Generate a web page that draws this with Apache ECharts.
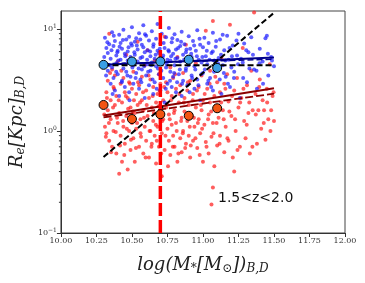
<!DOCTYPE html>
<html><head><meta charset="utf-8">
<script src="https://cdn.jsdelivr.net/npm/echarts@6/dist/echarts.min.js"></script>
<style>html,body{margin:0;padding:0;background:#fff}#c{width:365px;height:283px}</style>
</head><body><div id="c"></div>
<script>
const xTickValues = [10.00, 10.25, 10.50, 10.75, 11.00, 11.25, 11.50, 11.75, 12.00];
const yMinorTicks = [0.2,0.3,0.4,0.5,0.6,0.7,0.8,0.9,2,3,4,5,6,7,8,9];

const bluePoints = [
[10.31,8.2],[10.32,6.5],[10.33,5.8],[10.33,3.9],[10.34,7.1],[10.35,2.9],[10.35,5.1],[10.36,9.3],[10.36,4.2],[10.37,6.8],
[10.37,3.3],[10.38,2.5],[10.38,7.6],[10.39,5.5],[10.39,4.6],[10.40,6.1],[10.40,3.6],[10.41,8.8],[10.41,2.2],[10.42,5.0],
[10.42,7.3],[10.43,3.1],[10.43,6.4],[10.44,4.1],[10.44,9.8],[10.45,5.7],[10.45,2.7],[10.46,7.9],[10.46,3.8],[10.47,6.0],
[10.47,4.9],[10.48,2.4],[10.48,8.4],[10.49,5.3],[10.49,3.4],[10.50,6.9],[10.50,10.4],[10.51,4.4],[10.51,2.9],[10.52,7.5],
[10.52,5.6],[10.53,3.7],[10.53,8.1],[10.54,4.8],[10.54,6.3],[10.55,2.6],[10.55,9.1],[10.56,5.2],[10.56,3.2],[10.57,7.0],
[10.57,4.0],[10.58,6.6],[10.58,10.9],[10.59,2.1],[10.59,5.9],[10.60,3.5],[10.60,8.6],[10.61,4.5],[10.61,6.2],[10.62,2.8],
[10.62,7.7],[10.63,5.4],[10.63,3.9],[10.64,9.5],[10.64,4.7],[10.65,6.7],[10.65,2.3],[10.66,5.1],[10.66,3.0],[10.67,8.0],
[10.67,4.3],[10.68,6.1],[10.68,11.2],[10.69,3.6],[10.69,5.8],[10.70,7.2],[10.70,2.5],[10.71,4.6],[10.71,9.0],[10.72,5.5],
[10.72,3.3],[10.73,6.5],[10.73,1.9],[10.74,4.2],[10.74,8.3],[10.75,5.0],[10.75,2.9],[10.76,10.2],[10.76,6.0],[10.77,3.8],
[10.77,4.9],[10.78,7.4],[10.78,2.7],[10.79,5.7],[10.79,3.4],[10.80,8.9],[10.80,4.4],[10.81,6.3],[10.81,2.4],[10.82,5.2],
[10.82,7.8],[10.83,3.6],[10.84,4.8],[10.84,6.8],[10.85,2.2],[10.85,9.4],[10.86,5.6],[10.86,3.1],[10.87,7.1],[10.88,4.1],
[10.88,5.9],[10.89,2.8],[10.90,8.5],[10.90,4.6],[10.91,6.4],[10.92,3.5],[10.92,5.3],[10.93,7.6],[10.94,2.6],[10.94,4.3],
[10.95,6.1],[10.96,9.7],[10.96,3.2],[10.97,5.0],[10.98,7.0],[10.98,2.0],[10.99,4.7],[11.00,6.6],[11.00,3.7],[11.01,8.2],
[11.02,5.4],[11.03,2.9],[11.03,4.5],[11.04,7.3],[11.05,3.3],[11.06,5.8],[11.07,9.2],[11.07,2.5],[11.08,4.9],[11.09,6.7],
[11.10,3.9],[11.11,5.2],[11.12,7.9],[11.13,2.3],[11.14,4.4],[11.15,6.2],[11.16,3.4],[11.17,8.6],[11.18,5.0],[11.19,2.7],
[11.20,4.2],[11.21,6.9],[11.22,3.8],[11.24,5.5],[11.25,9.0],[11.26,2.1],[11.28,4.7],[11.29,7.2],[11.31,3.0],[11.32,5.9],
[11.34,8.3],[11.36,4.0],[11.38,2.6],[11.40,6.4],[11.42,4.8],[11.44,8.1],[11.46,3.5],[11.48,5.3],[11.50,4.3],[11.45,8.6],
[10.305,5.3],[10.318,3.5],[10.327,7.4],[10.342,4.4],[10.356,6.2],[10.364,2.3],[10.372,8.6],[10.389,3.8],[10.397,5.9],[10.404,4.9],
[10.413,6.7],[10.428,3.0],[10.436,7.8],[10.447,4.5],[10.453,5.4],[10.468,3.5],[10.476,6.6],[10.483,2.0],[10.494,7.2],[10.503,4.2],
[10.517,5.9],[10.526,3.3],[10.534,6.9],[10.547,4.1],[10.559,7.9],[10.566,3.0],[10.573,5.3],[10.586,4.3],[10.592,8.9],[10.607,5.0],
[10.614,3.8],[10.628,6.0],[10.636,4.4],[10.645,3.2],[10.652,7.1],[10.667,5.6],[10.674,2.6],[10.683,4.1],[10.696,6.4],[10.707,3.9],
[10.716,5.2],[10.723,7.3],[10.738,2.6],[10.745,4.5],[10.757,6.2],[10.768,3.1],[10.776,5.4],[10.784,8.1],[10.797,3.7],[10.806,5.1],
[10.818,3.0],[10.825,6.5],[10.837,4.0],[10.846,7.5],[10.853,2.9],[10.867,5.0],[10.879,3.9],[10.884,6.3],[10.897,4.4],[10.906,2.4],
[10.917,5.7],[10.924,3.3],[10.938,6.9],[10.946,4.0],[10.957,5.4],[10.968,2.8],[10.976,8.0],[10.988,3.6],[10.996,5.3],[11.013,4.0],
[11.027,6.1],[11.038,3.1],[11.046,5.0],[11.058,2.7],[11.069,6.0],[11.078,3.8],[11.093,7.6],[11.106,4.6],[11.118,3.2],[11.127,5.6],
[11.139,8.8],[11.147,3.7],[11.158,4.9],[11.176,2.9],[11.187,6.5],[11.204,5.4],[11.218,3.3],[11.236,7.7],[11.247,4.5],[11.268,5.1],
[11.283,3.3],[11.305,6.2],[11.327,4.1],[11.352,5.6],[11.377,3.9],[11.398,4.6],[11.423,2.9],[11.457,5.7],[11.486,4.9]
];

const redPoints = [
[10.31,1.1],[10.32,2.4],[10.32,0.95],[10.33,3.1],[10.33,1.6],[10.34,0.8],[10.34,9.0],[10.35,2.0],[10.35,1.3],[10.36,4.0],
[10.36,0.7],[10.37,2.7],[10.37,1.0],[10.38,1.8],[10.38,3.5],[10.39,0.6],[10.39,2.2],[10.40,1.2],[10.40,4.8],[10.41,0.38],
[10.41,1.5],[10.42,2.9],[10.42,0.9],[10.43,1.9],[10.43,0.5],[10.44,3.3],[10.44,1.1],[10.45,2.4],[10.45,0.75],[10.46,1.4],
[10.46,5.6],[10.47,0.42],[10.47,2.1],[10.48,1.0],[10.48,3.0],[10.49,1.7],[10.49,0.65],[10.50,2.6],[10.50,1.2],[10.51,0.85],
[10.51,3.8],[10.52,1.5],[10.52,0.5],[10.53,2.3],[10.53,1.05],[10.54,7.5],[10.54,1.8],[10.55,0.7],[10.55,2.8],[10.56,1.3],
[10.56,0.95],[10.57,3.4],[10.57,2.0],[10.58,0.6],[10.58,1.6],[10.59,4.4],[10.59,1.1],[10.60,2.5],[10.60,0.8],[10.61,1.4],
[10.61,6.2],[10.62,0.55],[10.62,2.1],[10.63,1.0],[10.63,3.2],[10.64,1.7],[10.64,0.75],[10.65,2.7],[10.65,1.25],[10.66,0.9],
[10.66,4.9],[10.67,1.9],[10.67,0.48],[10.68,2.3],[10.68,1.1],[10.69,3.6],[10.69,0.7],[10.70,1.5],[10.70,2.9],[10.71,0.95],
[10.71,0.36],[10.72,2.0],[10.72,1.3],[10.73,8.4],[10.73,0.65],[10.74,1.7],[10.74,3.0],[10.75,1.05],[10.75,2.4],[10.76,0.8],
[10.76,1.45],[10.77,4.2],[10.77,0.58],[10.78,2.2],[10.78,1.15],[10.79,0.9],[10.79,3.3],[10.80,1.6],[10.80,0.7],[10.81,2.6],
[10.81,1.2],[10.82,5.3],[10.82,0.5],[10.83,1.9],[10.84,0.85],[10.84,2.8],[10.85,1.35],[10.85,0.62],[10.86,3.7],[10.86,1.0],
[10.87,2.1],[10.87,1.55],[10.88,0.75],[10.88,7.0],[10.89,1.25],[10.89,2.5],[10.90,0.9],[10.90,1.8],[10.91,3.1],[10.91,0.55],
[10.92,1.4],[10.93,2.3],[10.93,0.8],[10.94,1.1],[10.95,4.6],[10.95,1.7],[10.96,0.68],[10.97,2.7],[10.97,1.3],[10.98,0.95],
[10.99,3.5],[10.99,1.6],[11.00,0.5],[11.00,2.0],[11.01,1.15],[11.02,9.6],[11.02,0.78],[11.03,2.6],[11.04,1.45],[11.04,0.6],
[11.05,3.9],[11.05,1.9],[11.06,0.88],[11.07,12.0],[11.07,1.2],[11.08,2.2],[11.08,0.45],[11.09,1.7],[11.10,3.0],[11.10,0.72],
[11.11,1.35],[11.12,2.4],[11.12,0.9],[11.13,5.2],[11.14,1.6],[11.15,0.62],[11.15,2.9],[11.16,1.1],[11.17,3.6],[11.18,0.8],
[11.18,1.95],[11.19,11.0],[11.20,1.4],[11.21,0.55],[11.22,2.5],[11.22,0.4],[11.23,1.0],[11.24,3.3],[11.25,1.7],[11.26,0.7],
[11.27,2.1],[11.28,6.5],[11.29,1.25],[11.30,0.85],[11.31,2.8],[11.32,1.5],[11.33,0.6],[11.34,3.9],[11.35,1.6],[11.36,14.5],
[11.37,2.3],[11.38,0.75],[11.39,1.6],[11.40,3.2],[11.41,1.05],[11.42,2.0],[11.43,1.6],[11.44,0.82],[11.45,2.6],[11.46,1.3],
[11.47,4.5],[11.48,1.6],[11.49,2.2],[11.50,1.25],[11.06,0.19],[11.07,0.28],
[10.305,1.45],[10.316,0.88],[10.324,2.1],[10.338,1.2],[10.346,3.7],[10.353,0.62],[10.367,1.7],[10.374,2.6],[10.386,0.98],[10.395,1.35],
[10.407,2.0],[10.416,0.72],[10.425,3.9],[10.438,1.25],[10.446,0.58],[10.457,2.2],[10.464,1.05],[10.473,1.65],[10.486,2.9],[10.493,0.82],
[10.506,1.55],[10.514,2.0],[10.528,0.68],[10.536,1.2],[10.543,3.0],[10.557,1.9],[10.564,0.88],[10.578,2.4],[10.585,1.35],[10.596,0.55],
[10.604,1.8],[10.617,3.5],[10.624,1.0],[10.637,0.7],[10.646,2.2],[10.654,1.5],[10.668,1.15],[10.675,0.8],[10.687,1.75],[10.694,2.5],
[10.706,0.6],[10.714,1.25],[10.727,2.7],[10.736,0.9],[10.747,1.85],[10.754,0.45],[10.766,1.3],[10.775,2.0],[10.788,0.7],[10.796,1.5],
[10.804,3.6],[10.815,1.0],[10.827,0.6],[10.834,2.3],[10.846,1.25],[10.858,0.95],[10.866,1.9],[10.875,0.68],[10.886,1.45],[10.894,3.0],
[10.907,1.1],[10.914,0.72],[10.928,2.0],[10.936,1.35],[10.947,0.85],[10.958,2.5],[10.964,1.2],[10.977,0.58],[10.985,1.8],[10.994,1.05],
[11.012,2.3],[11.025,0.7],[11.036,1.3],[11.047,2.9],[11.058,1.55],[11.074,0.95],[11.087,3.4],[11.096,1.2],[11.117,0.75],[11.128,1.9],
[11.146,1.3],[11.158,2.6],[11.172,0.85],[11.186,1.55],[11.205,2.2],[11.226,1.3],[11.243,0.65],[11.262,1.9],[11.285,2.6],[11.308,1.15],
[11.326,1.9],[11.348,0.7],[11.372,1.45],[11.396,2.7],[11.428,1.2],[11.452,1.9],[11.475,1.0],[11.497,2.4]
];

const blueMedX = [10.3, 10.5, 10.7, 10.9, 11.1];
const blueMedY = [4.45, 4.8, 4.8, 5.0, 4.15];
const redMedX = [10.3, 10.5, 10.7, 10.9, 11.1];
const redMedY = [1.8, 1.31, 1.46, 1.41, 1.67];

const blueFit = [[10.3, 4.45], [11.5, 5.25]];
const blueFitDash = [[10.3, 4.55], [11.5, 5.05]];
const flatRef = [[10.3, 4.4], [11.5, 4.4]];
const redFit = [[10.3, 1.42], [11.5, 2.62]];
const redFitDash = [[10.3, 1.36], [11.5, 2.32]];
const diagRef = [[10.3, 0.556], [11.5, 14.4]];
const massCut = [[10.7, 0.1], [10.7, 15]];

const serif = '"DejaVu Serif", "Liberation Serif", serif';

function lineSeries(data, color, width, type) {
  return {type: 'line', data: data, showSymbol: false, silent: true, z: 3,
    lineStyle: {color: color, width: width, type: type}, animation: false};
}

const chart = echarts.init(document.getElementById('c'), null, {renderer: 'canvas'});
chart.setOption({
  animation: false,
  grid: {left: 60, right: 20, top: 11, bottom: 50, show: true, borderColor: '#444', borderWidth: 1, backgroundColor: 'transparent'},
  xAxis: {
    type: 'value', min: 10, max: 12, interval: 0.25,
    axisLine: {show: true, onZero: false, lineStyle: {color: '#333'}},
    axisTick: {show: true, inside: false, length: 4, lineStyle: {color: '#333'}},
    splitLine: {show: false},
    axisLabel: {fontFamily: serif, fontSize: 8, color: '#333', margin: 4, formatter: v => v.toFixed(2)},
    name: 'log(M{s|*}[M{s|⊙}]){s|B,D}', nameLocation: 'middle', nameGap: 22,
    nameTextStyle: {fontFamily: serif, fontStyle: 'italic', fontSize: 18, color: '#222',
      rich: {s: {fontFamily: serif, fontStyle: 'italic', fontSize: 12, color: '#222', verticalAlign: 'bottom', padding: [8, 0, 0, 0]}}}
  },
  yAxis: {
    type: 'log', logBase: 10, min: 0.1, max: 15,
    axisLine: {show: true, onZero: false, lineStyle: {color: '#333'}},
    axisTick: {show: true, inside: false, length: 4, lineStyle: {color: '#333'}},
    splitLine: {show: false},
    axisLabel: {fontFamily: serif, fontSize: 8, color: '#333', margin: 4, showMaxLabel: false,
      formatter: v => { const e = Math.round(Math.log10(v)); return '{b|10}{s|' + (e < 0 ? '−' + (-e) : e) + '}'; },
      rich: {b: {fontFamily: serif, fontSize: 8, color: '#333'}, s: {fontFamily: serif, fontSize: 6, color: '#333', padding: [0, 0, 6, 0]}}},
    name: 'R{s|e}[Kpc]{s|B,D}', nameLocation: 'middle', nameGap: 28, nameRotate: 90,
    nameTextStyle: {fontFamily: serif, fontStyle: 'italic', fontSize: 18, color: '#222',
      rich: {s: {fontFamily: serif, fontStyle: 'italic', fontSize: 12, color: '#222', padding: [8, 0, 0, 0]}}}
  },
  series: [
    {type: 'scatter', data: redPoints, symbolSize: 4, z: 2, itemStyle: {color: 'rgba(255,25,25,0.88)'}},
    {type: 'scatter', data: bluePoints, symbolSize: 4, z: 2, itemStyle: {color: 'rgba(25,25,255,0.88)'}},
    lineSeries(blueFit, '#00008b', 2, 'solid'),
    lineSeries(blueFitDash, '#00008b', 1.5, [6, 3]),
    lineSeries(flatRef, '#000', 2, [6, 3]),
    lineSeries(redFit, '#8b0000', 2, 'solid'),
    lineSeries(redFitDash, '#8b0000', 1.8, [8, 3]),
    lineSeries(diagRef, '#000', 2, [6, 3]),
    Object.assign(lineSeries(massCut, '#ff0000', 3.5, [13, 4]), {z: 4}),
    {type: 'scatter', data: blueMedX.map((x, i) => [x, blueMedY[i]]), symbolSize: 9, z: 5,
      itemStyle: {color: '#3a9ee4', borderColor: '#000', borderWidth: 1, opacity: 1}},
    {type: 'scatter', data: redMedX.map((x, i) => [x, redMedY[i]]), symbolSize: 9, z: 5,
      itemStyle: {color: '#f25412', borderColor: '#000', borderWidth: 1, opacity: 1}},
    {type: 'custom', data: yMinorTicks.map(v => [10, v]), z: 6, silent: true,
      renderItem: (params, api) => {
        const p = api.coord([10, api.value(1)]);
        return {type: 'line', shape: {x1: p[0] - 2, y1: p[1], x2: p[0], y2: p[1]}, style: {stroke: '#333', lineWidth: 1}};
      }}
  ],
  graphic: [{type: 'text', left: 218, top: 191, style: {text: '1.5<z<2.0', fontFamily: '"DejaVu Sans", sans-serif', fontSize: 14, fill: '#111'}}]
});
</script>
</body></html>
